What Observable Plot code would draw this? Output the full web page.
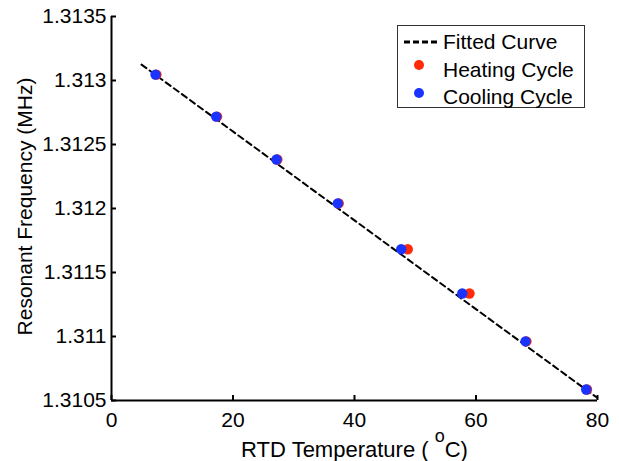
<!DOCTYPE html>
<html><head><meta charset="utf-8">
<script src="https://cdn.jsdelivr.net/npm/d3@7"></script>
<script src="https://cdn.jsdelivr.net/npm/@observablehq/plot@0.6"></script>
<style>
html,body{margin:0;padding:0;background:#fff}
#chart svg{display:block;font-family:"Liberation Sans",Arial,sans-serif}
</style>
</head><body><div id="chart"></div>
<script>
// ---- data ----
const coolingTemp = [7.24, 17.23, 27.16, 37.25, 47.69, 57.73, 68.15, 78.14];
const coolingFreq = [1.313046, 1.312718, 1.312383, 1.31204, 1.311682, 1.311336, 1.310962, 1.310586];
const heatingTemp = [7.4, 17.38, 27.3, 37.4, 48.77, 58.93, 68.3, 78.27];
const heatingFreq = [1.313046, 1.312718, 1.312383, 1.31204, 1.311682, 1.311336, 1.310962, 1.310586];
const fitTemp = [4.94, 79.95];
const fitFreq = [1.313124, 1.310521];
const xTicks = [0, 20, 40, 60, 80];
const yTicks = [1.3105, 1.311, 1.3115, 1.312, 1.3125, 1.313, 1.3135];
const xDomain = [0, 80];
const yDomain = [1.3105, 1.3135];
const seriesNames = ["Fitted Curve", "Heating Cycle", "Cooling Cycle"];
const xTitle = "RTD Temperature ( oC)";
const yTitle = "Resonant Frequency (MHz)";

const BLUE = "#1a33ff", RED = "#ff2a08";
const cooling = coolingTemp.map((t, i) => ({t, f: coolingFreq[i]}));
const heating = heatingTemp.map((t, i) => ({t, f: heatingFreq[i]}));
const fit = fitTemp.map((t, i) => ({t, f: fitFreq[i]}));
const fmt = d => String(+d.toFixed(4));

const chart = Plot.plot({
  width: 619, height: 461,
  marginLeft: 111, marginRight: 22, marginTop: 16, marginBottom: 61,
  style: {fontFamily: '"Liberation Sans", Arial, sans-serif', color: "#000", background: "#fff"},
  x: {domain: xDomain, axis: null},
  y: {domain: yDomain, axis: null},
  marks: [
    // tick marks pointing inward
    Plot.axisX({ticks: xTicks, tickSize: 5, dy: -5, tickFormat: () => "", label: null, strokeWidth: 2, stroke: "#000"}),
    Plot.axisY({ticks: yTicks, tickSize: 5, dx: 5, tickFormat: () => "", label: null, strokeWidth: 2, stroke: "#000"}),
    // tick labels
    Plot.axisX({ticks: xTicks, tickSize: 0, tickPadding: 12, tickFormat: fmt, fontSize: 21, label: null, fill: "#000"}),
    Plot.axisY({ticks: yTicks, tickSize: 0, tickPadding: 5, tickFormat: fmt, fontSize: 21, label: null, fill: "#000"}),
    // axis lines
    Plot.ruleX([xDomain[0]], {strokeWidth: 2, stroke: "#000"}),
    Plot.ruleY([yDomain[0]], {strokeWidth: 2, stroke: "#000"}),
    // fitted curve
    Plot.line(fit, {x: "t", y: "f", stroke: "#000", strokeWidth: 2, strokeDasharray: "6,4"}),
    // points
    Plot.dot(heating, {x: "t", y: "f", r: 5.2, fill: RED, stroke: null}),
    Plot.dot(cooling, {x: "t", y: "f", r: 5.2, fill: BLUE, stroke: null}),
    // titles
    Plot.text([yTitle], {frameAnchor: "left", textAnchor: "middle", lineAnchor: "middle", rotate: -90, dx: -86, dy: -2, fontSize: 21, fill: "#000"}),
    Plot.text([xTitle], {frameAnchor: "bottom", textAnchor: "middle", lineAnchor: "middle", dy: 49.5, fontSize: 22, fill: "#000"})
  ]
});
document.getElementById("chart").appendChild(chart);

// superscript "o" in the x title
const svg = d3.select(chart);
svg.selectAll("text").filter(function() { return this.textContent === xTitle; }).each(function() {
  const t = d3.select(this);
  t.text(null);
  t.append("tspan").text("RTD Temperature ( ");
  t.append("tspan").attr("font-size", 18).attr("dy", -15).text("o");
  t.append("tspan").attr("dy", 15).text("C)");
});

// legend
const lg = svg.append("g").attr("font-family", '"Liberation Sans", Arial, sans-serif')
  .attr("font-size", 21).attr("text-anchor", "start");
lg.append("rect").attr("x", 397.5).attr("y", 25.5).attr("width", 187).attr("height", 82)
  .attr("fill", "#fff").attr("stroke", "#333").attr("stroke-width", 1);
lg.append("line").attr("x1", 404).attr("x2", 439).attr("y1", 42).attr("y2", 42)
  .attr("stroke", "#000").attr("stroke-width", 3).attr("stroke-dasharray", "6,3");
lg.append("circle").attr("cx", 419).attr("cy", 65).attr("r", 5).attr("fill", RED);
lg.append("circle").attr("cx", 419).attr("cy", 93).attr("r", 5).attr("fill", BLUE);
const ys = [49, 77, 104];
seriesNames.forEach((n, i) => lg.append("text").attr("x", 443).attr("y", ys[i]).attr("fill", "#000").text(n));
</script>
</body></html>
